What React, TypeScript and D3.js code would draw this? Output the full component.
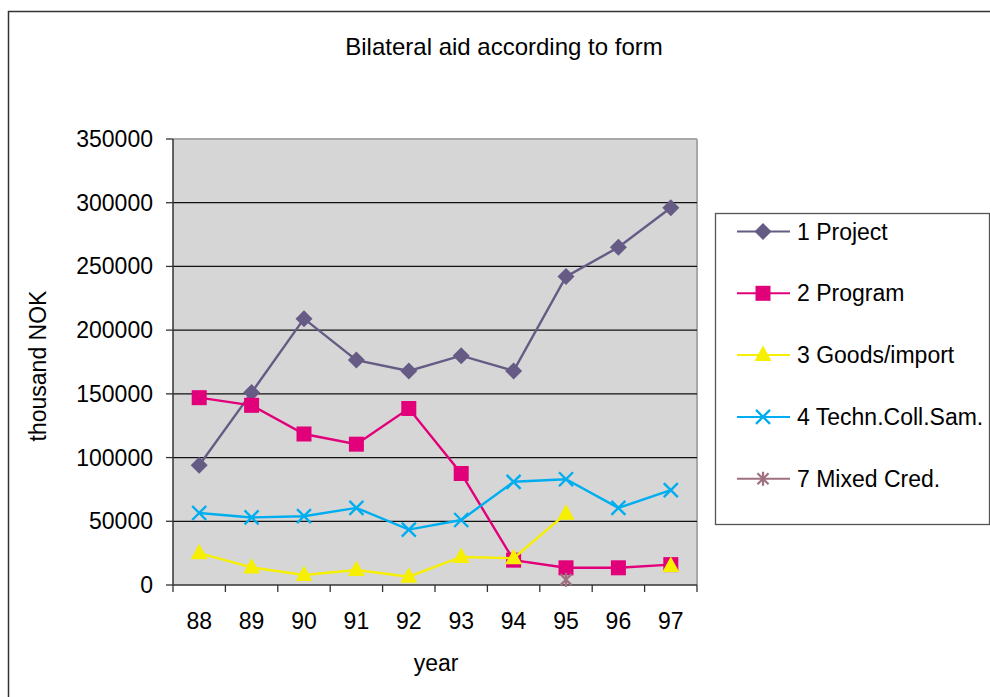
import React from "react";
import * as d3 from "d3";

// Bilateral aid, thousand NOK, by form of aid
const years = ["88", "89", "90", "91", "92", "93", "94", "95", "96", "97"];
const project = [94000, 151000, 209000, 176500, 168000, 180000, 168000, 242000, 265000, 296000];
const program = [147000, 141000, 118500, 110500, 138500, 87500, 19500, 13500, 13500, 16000];
const goodsImport: (number | null)[] = [25000, 13800, 7800, 11800, 6500, 22000, 21000, 56000, null, 15000];
const technColl = [56500, 53000, 54000, 60500, 43500, 51000, 81000, 83000, 60500, 74500];
const mixedCred: (number | null)[] = [null, null, null, null, null, null, null, 4200, null, null];
const yTicks = [0, 50000, 100000, 150000, 200000, 250000, 300000, 350000];

type Marker = "diamond" | "square" | "triangle" | "cross" | "asterisk";
const series: { name: string; values: (number | null)[]; color: string; marker: Marker }[] = [
  { name: "1 Project", values: project, color: "#665b84", marker: "diamond" },
  { name: "2 Program", values: program, color: "#e2007a", marker: "square" },
  { name: "3 Goods/import", values: goodsImport, color: "#f6f000", marker: "triangle" },
  { name: "4 Techn.Coll.Sam.", values: technColl, color: "#00aeef", marker: "cross" },
  { name: "7 Mixed Cred.", values: mixedCred, color: "#a0707f", marker: "asterisk" },
];

const W = 990;
const H = 697;
const plot = { left: 173, right: 697, top: 139, bottom: 585 };
const font = "'Liberation Sans', Arial, sans-serif";
const fs = 23;

function MarkerShape({ kind, x, y, color }: { kind: Marker; x: number; y: number; color: string }) {
  switch (kind) {
    case "diamond":
      return <path d={`M${x},${y - 8.5}L${x + 8.5},${y}L${x},${y + 8.5}L${x - 8.5},${y}Z`} fill={color} />;
    case "square":
      return <rect x={x - 7.5} y={y - 7.5} width={15} height={15} fill={color} />;
    case "triangle":
      return <path d={`M${x},${y - 9.5}L${x + 8.5},${y + 6}L${x - 8.5},${y + 6}Z`} fill={color} />;
    case "cross":
      return (
        <path
          d={`M${x - 7},${y - 7}L${x + 7},${y + 7}M${x + 7},${y - 7}L${x - 7},${y + 7}`}
          stroke={color}
          strokeWidth={2.4}
          fill="none"
        />
      );
    case "asterisk":
      return (
        <path
          d={`M${x - 5.5},${y - 5.5}L${x + 5.5},${y + 5.5}M${x + 5.5},${y - 5.5}L${x - 5.5},${y + 5.5}M${x},${y - 7}L${x},${y + 7}`}
          stroke={color}
          strokeWidth={2.2}
          fill="none"
        />
      );
  }
}

export default function App() {
  const x = d3.scaleBand<string>().domain(years).range([plot.left, plot.right]).paddingInner(0).paddingOuter(0);
  const y = d3.scaleLinear().domain([0, 350000]).range([plot.bottom, plot.top]);
  const cx = (yr: string) => (x(yr) ?? 0) + x.bandwidth() / 2;

  const line = d3
    .line<number | null>()
    .defined((d) => d != null)
    .x((_, i) => cx(years[i]))
    .y((d) => y(d as number));

  const legend = { x: 715, y: 213, w: 274, h: 311, first: 231.5, step: 61.8 };

  return (
    <svg
      width={W}
      height={H}
      style={{ position: "absolute", left: 0, top: 0, background: "#fff" }}
      fontFamily={font}
    >
      {/* outer chart frame */}
      <rect x={8.5} y={11.5} width={W + 20} height={H + 20} fill="none" stroke="#333" strokeWidth={1.5} />

      <text x={504} y={55} textAnchor="middle" fontSize={24} fill="#000">
        Bilateral aid according to form
      </text>

      {/* plot area */}
      <rect
        x={plot.left}
        y={plot.top}
        width={plot.right - plot.left}
        height={plot.bottom - plot.top}
        fill="#d6d6d6"
      />
      <line x1={plot.left} x2={plot.right} y1={plot.top} y2={plot.top} stroke="#a8a8a8" strokeWidth={2} />
      <line x1={plot.right} x2={plot.right} y1={plot.top} y2={plot.bottom} stroke="#a8a8a8" strokeWidth={2} />
      {yTicks
        .filter((t) => t > 0 && t < 350000)
        .map((t) => (
          <line key={t} x1={plot.left} x2={plot.right} y1={y(t)} y2={y(t)} stroke="#111" strokeWidth={1.3} />
        ))}

      {/* y axis */}
      <line x1={plot.left} x2={plot.left} y1={plot.top} y2={plot.bottom} stroke="#333" strokeWidth={1.5} />
      {yTicks.map((t) => (
        <g key={t}>
          <line x1={plot.left - 7} x2={plot.left} y1={y(t)} y2={y(t)} stroke="#333" strokeWidth={1.3} />
          <text x={153} y={y(t) + 8} textAnchor="end" fontSize={fs} fill="#000">
            {t}
          </text>
        </g>
      ))}
      <text
        transform={`translate(46,${366}) rotate(-90)`}
        textAnchor="middle"
        fontSize={fs}
        fill="#000"
      >
        thousand NOK
      </text>

      {/* x axis */}
      <line x1={plot.left} x2={plot.right} y1={plot.bottom} y2={plot.bottom} stroke="#333" strokeWidth={1.5} />
      {[...years.map((yr) => x(yr) ?? 0), plot.right].map((px, i) => (
        <line key={i} x1={px} x2={px} y1={plot.bottom} y2={plot.bottom + 7} stroke="#333" strokeWidth={1.3} />
      ))}
      {years.map((yr) => (
        <text key={yr} x={cx(yr)} y={629} textAnchor="middle" fontSize={fs} fill="#000">
          {yr}
        </text>
      ))}
      <text x={436} y={671} textAnchor="middle" fontSize={fs} fill="#000">
        year
      </text>

      {/* series */}
      {series.map((s) => (
        <g key={s.name}>
          <path d={line(s.values) ?? ""} fill="none" stroke={s.color} strokeWidth={2.4} />
          {s.values.map((v, i) =>
            v == null ? null : <MarkerShape key={i} kind={s.marker} x={cx(years[i])} y={y(v)} color={s.color} />
          )}
        </g>
      ))}

      {/* legend */}
      <rect x={legend.x + 0.5} y={legend.y + 0.5} width={legend.w} height={legend.h} fill="#fff" stroke="#555" strokeWidth={1.3} />
      {series.map((s, i) => {
        const ly = legend.first + i * legend.step;
        return (
          <g key={s.name}>
            <line x1={737} x2={790} y1={ly} y2={ly} stroke={s.color} strokeWidth={2} />
            <MarkerShape kind={s.marker} x={763} y={ly} color={s.color} />
            <text x={797} y={ly + 8} fontSize={fs} fill="#000">
              {s.name}
            </text>
          </g>
        );
      })}
    </svg>
  );
}
